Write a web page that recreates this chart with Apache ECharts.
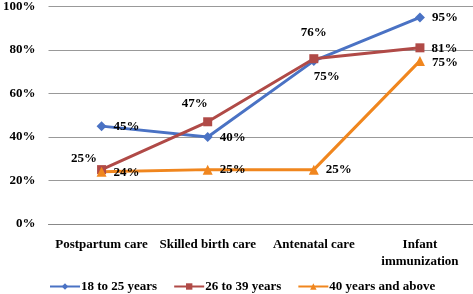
<!DOCTYPE html>
<html><head><meta charset="utf-8">
<script src="https://cdn.jsdelivr.net/npm/echarts@6/dist/echarts.min.js"></script>
<style>html,body{margin:0;padding:0;background:#fff}#c{width:473px;height:294px}</style>
</head><body><div id="c"></div>
<script>
var categories = ['Postpartum care', 'Skilled birth care', 'Antenatal care', 'Infant\nimmunization'];
var seriesNames = ['18 to 25 years', '26 to 39 years', '40 years and above'];
var young = [45, 40, 75, 95];
var middle = [25, 47, 76, 81];
var older = [24, 25, 25, 75];
var yTicks = [0, 20, 40, 60, 80, 100];

var font = '"Liberation Serif", "Times New Roman", serif';
var fs = 13;
var lbl = function (pos, off) {
  return { show: true, position: pos, offset: off || [0, 0], formatter: '{c}%', color: '#000',
    fontFamily: font, fontWeight: 'bold', fontSize: fs };
};
function pts(vals, labels) {
  return vals.map(function (v, i) { return { value: v, label: labels[i] }; });
}
var chart = echarts.init(document.getElementById('c'));
chart.setOption({
  animation: false,
  grid: { left: 43, right: 0, top: 5, bottom: 70 },
  xAxis: {
    type: 'category', data: categories, boundaryGap: true,
    axisLine: { show: true, lineStyle: { color: '#888', width: 1 } },
    axisTick: { show: false },
    axisLabel: { color: '#000', fontFamily: font, fontWeight: 'bold', fontSize: fs, margin: 12, lineHeight: 17, interval: 0 }
  },
  yAxis: {
    type: 'value', min: yTicks[0], max: yTicks[yTicks.length - 1], interval: 20,
    axisLine: { show: false }, axisTick: { show: false },
    splitLine: { lineStyle: { color: '#999', width: 1 } },
    axisLabel: { color: '#000', fontFamily: font, fontWeight: 'bold', fontSize: fs, margin: 13, formatter: '{value}%' }
  },
  legend: {
    bottom: 1, left: 49, padding: 0, itemGap: 16, itemWidth: 30, itemHeight: 8,
    textStyle: { color: '#000', fontFamily: font, fontWeight: 'bold', fontSize: fs, padding: [0, 0, 0, -4] },
    data: seriesNames
  },
  series: [
    { name: seriesNames[0], type: 'line', symbol: 'diamond', symbolSize: 10,
      itemStyle: { color: '#4A72C4' }, lineStyle: { width: 3 },
      data: pts(young, [lbl('right', [2, 1]), lbl('right', [2, 1]), lbl('bottom', [13, -1]), lbl('right', [2, 0])]) },
    { name: seriesNames[1], type: 'line', symbol: 'rect', symbolSize: 9,
      itemStyle: { color: '#B04A47' }, lineStyle: { width: 3 },
      data: pts(middle, [lbl('left', [5, -11]), lbl('top', [-13, -2]), lbl('top', [0, -10]), lbl('right', [2, 1])]) },
    { name: seriesNames[2], type: 'line', symbol: 'triangle', symbolSize: 10,
      itemStyle: { color: '#F0861E' }, lineStyle: { width: 3 },
      data: pts(older, [lbl('right', [2, 1]), lbl('right', [2, 0]), lbl('right', [2, 0]), lbl('right', [2, 2])]) }
  ]
});
</script></body></html>
